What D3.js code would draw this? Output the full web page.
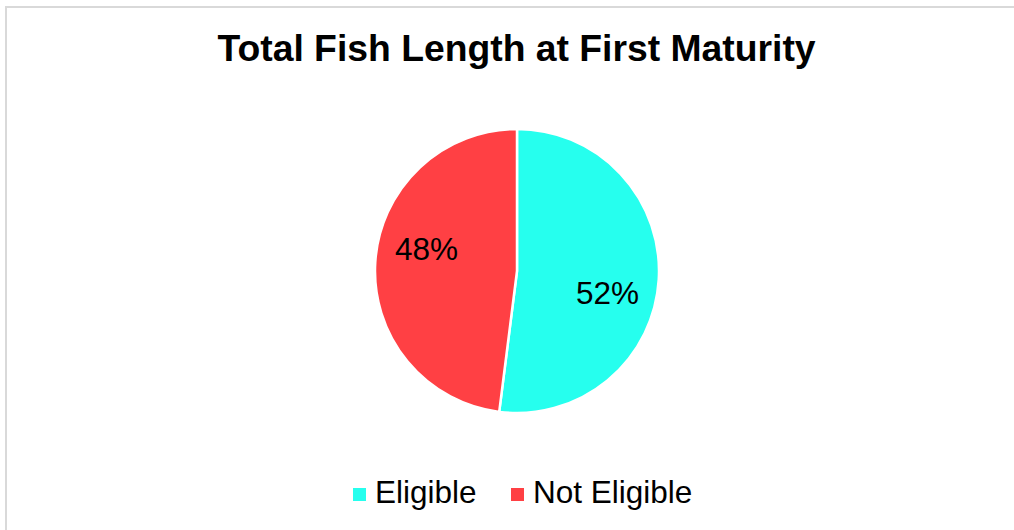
<!DOCTYPE html>
<html>
<head>
<meta charset="utf-8">
<script src="https://cdn.jsdelivr.net/npm/d3@7"></script>
<style>
  html, body { margin: 0; padding: 0; background: #ffffff; }
  svg { display: block; font-family: "Liberation Sans", Arial, sans-serif; }
</style>
</head>
<body>
<svg id="chart" width="1014" height="530"></svg>
<script>
// Share of fish by length at first maturity
const categories = ["Eligible", "Not Eligible"];
const values = [52, 48];
const colors = ["#26FFEE", "#FF4044"];
const title = "Total Fish Length at First Maturity";

const svg = d3.select("#chart");
const W = 1014, H = 530;

// chart area frame
svg.append("rect")
  .attr("x", 6).attr("y", 7)
  .attr("width", W + 10).attr("height", H + 10)
  .attr("fill", "#ffffff")
  .attr("stroke", "#d9d9d9")
  .attr("stroke-width", 2);

// title
svg.append("text")
  .attr("x", 516.5).attr("y", 61)
  .attr("text-anchor", "middle")
  .attr("font-size", 37.3)
  .attr("font-weight", "bold")
  .attr("fill", "#000000")
  .text(title);

// pie
const cx = 517, cy = 271, r = 142;
const color = d3.scaleOrdinal().domain(categories).range(colors);
const pie = d3.pie().sort(null).value(d => d.value);
const data = pie(categories.map((c, i) => ({ name: c, value: values[i] })));
const arc = d3.arc().innerRadius(0).outerRadius(r);

const g = svg.append("g").attr("transform", `translate(${cx},${cy})`);
g.selectAll("path.slice")
  .data(data)
  .join("path")
  .attr("class", "slice")
  .attr("d", arc)
  .attr("fill", d => color(d.data.name))
  .attr("stroke", "#ffffff")
  .attr("stroke-width", 2.5)
  .attr("stroke-linejoin", "round");

// percentage labels placed inside each slice
const total = d3.sum(values);
const labelR = r * 0.655;
const labelShift = 10 * Math.PI / 180;
g.selectAll("text.pct")
  .data(data)
  .join("text")
  .attr("class", "pct")
  .attr("x", d => labelR * Math.sin((d.startAngle + d.endAngle) / 2 + labelShift))
  .attr("y", d => -labelR * Math.cos((d.startAngle + d.endAngle) / 2 + labelShift))
  .attr("dy", "0.35em")
  .attr("text-anchor", "middle")
  .attr("font-size", 31.5)
  .attr("fill", "#000000")
  .text(d => Math.round(d.data.value / total * 100) + "%");

// legend
const legend = svg.append("g").attr("transform", "translate(353,503)");
const items = [
  { name: categories[0], x: 0 },
  { name: categories[1], x: 158 }
];
const li = legend.selectAll("g.item")
  .data(items)
  .join("g")
  .attr("class", "item")
  .attr("transform", d => `translate(${d.x},0)`);
li.append("rect")
  .attr("x", 0).attr("y", -15)
  .attr("width", 13).attr("height", 13)
  .attr("fill", d => color(d.name));
li.append("text")
  .attr("x", 22).attr("y", 0)
  .attr("font-size", 31.5)
  .attr("fill", "#000000")
  .text(d => d.name);
</script>
</body>
</html>
